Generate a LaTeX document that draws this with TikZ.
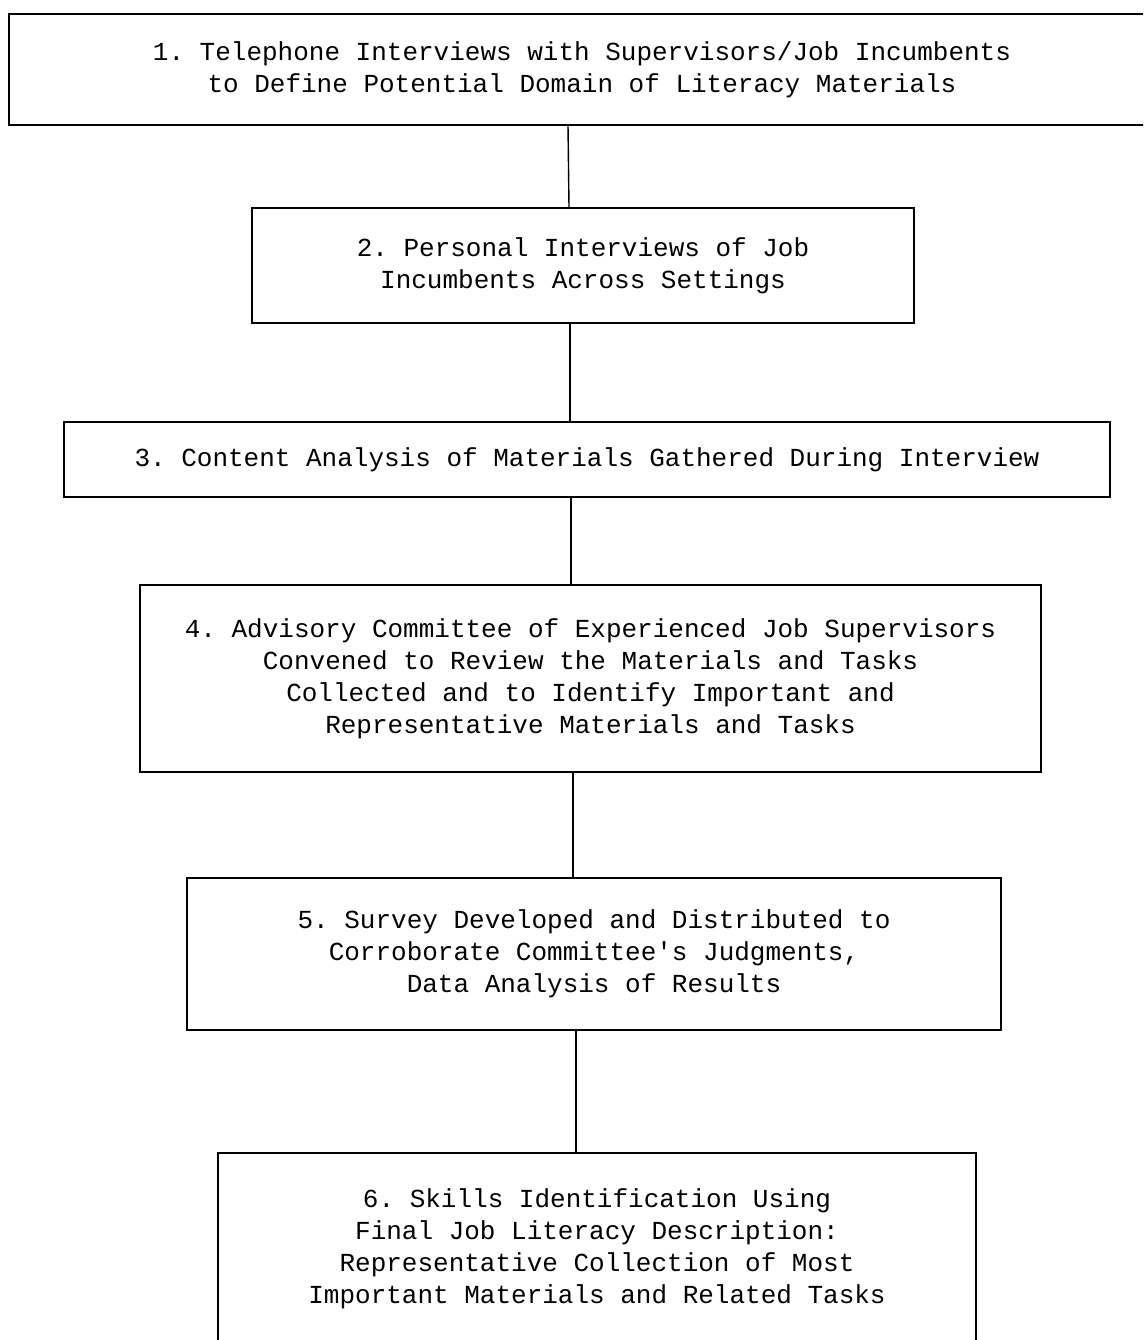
\documentclass[tikz,border=0pt]{standalone}
\usepackage{fontspec}
\setmonofont{Liberation Mono}
\begin{document}
\begin{tikzpicture}[x=1pt,y=-1pt,
  stepbox/.style={draw, line width=1.6pt, inner sep=0pt, align=center,
    font=\ttfamily\fontsize{26}{32}\selectfont},
  link/.style={line width=1.4pt}]
\useasboundingbox (0,0) rectangle (1143,1340);
\clip (0,0) rectangle (1143,1340);
\fill[white] (0,0) rectangle (1143,1340);
\node[stepbox, minimum width=1146pt, minimum height=111pt] (b1) at (582,69.5)
  {1. Telephone Interviews with Supervisors/Job Incumbents\\to Define Potential Domain of Literacy Materials};
\node[stepbox, minimum width=662pt, minimum height=115pt] (b2) at (583,265.5)
  {2. Personal Interviews of Job\\Incumbents Across Settings};
\node[stepbox, minimum width=1046pt, minimum height=75pt] (b3) at (587,459.5)
  {3. Content Analysis of Materials Gathered During Interview};
\node[stepbox, minimum width=901pt, minimum height=187pt] (b4) at (590.5,678.5)
  {4. Advisory Committee of Experienced Job Supervisors\\Convened to Review the Materials and Tasks\\Collected and to Identify Important and\\Representative Materials and Tasks};
\node[stepbox, minimum width=814pt, minimum height=152pt] (b5) at (594,954)
  {5. Survey Developed and Distributed to\\Corroborate Committee's Judgments,\\Data Analysis of Results};
\node[stepbox, minimum width=758pt, minimum height=192pt] (b6) at (597,1249)
  {6. Skills Identification Using\\Final Job Literacy Description:\\Representative Collection of Most\\Important Materials and Related Tasks};
\draw[link] (b1.south -| 568,0) -- (b2.north -| 569,0);
\draw[link] (b2.south -| 570,0) -- (b3.north -| 570,0);
\draw[link] (b3.south -| 571,0) -- (b4.north -| 571,0);
\draw[link] (b4.south -| 573,0) -- (b5.north -| 573,0);
\draw[link] (b5.south -| 576,0) -- (b6.north -| 576,0);
\end{tikzpicture}
\end{document}
